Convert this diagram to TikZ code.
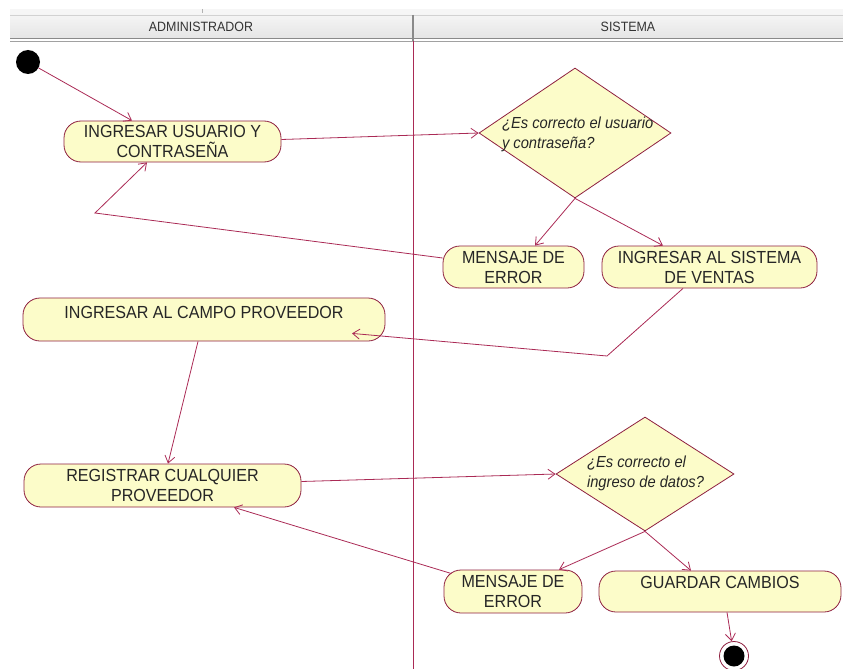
\documentclass[tikz,border=0pt]{standalone}
\usepackage{fontspec}
\setmainfont{Liberation Sans}
\newfontfamily\actfont[FakeStretch=0.92]{Liberation Sans}
\usetikzlibrary{shapes.geometric,arrows.meta,calc}

\definecolor{flowred}{HTML}{AA2A55}
\definecolor{actline}{HTML}{8E1F3F}
\definecolor{actfill}{HTML}{FCFCC9}
\definecolor{hdrgray}{HTML}{EFEFEF}
\definecolor{hdrline}{HTML}{8A8A8A}
\definecolor{hdrtext}{HTML}{333333}
\definecolor{txt}{HTML}{262626}

% zero-size, left-aligned text block placed inside a decision diamond
% #1 horizontal offset, #2 downward offset, #3 lines
\newcommand\dectext[3]{\smash{\makebox[0pt][l]{\hspace{#1pt}\raisebox{-#2pt}{\begin{tabular}{@{}l@{}}#3\end{tabular}}}}}

\tikzset{
  act/.style={draw=actline, fill=actfill, rounded corners=17pt, line width=0.8pt,
    inner sep=0pt, text=txt, align=center,
    font=\actfont\fontsize{17.5}{20}\selectfont},
  decision/.style={diamond, draw=actline, fill=actfill, line width=0.8pt,
    inner sep=0pt, text=txt, font=\actfont\itshape\fontsize{16}{20}\selectfont},
  flow/.style={draw=flowred, line width=0.8pt, -{Straight Barb[length=7pt,width=10pt]}},
  hdr/.style={text=hdrtext, font=\actfont\fontsize{13.5}{15}\selectfont},
}

\begin{document}
\begin{tikzpicture}[x=1pt,y=-1pt]
  \useasboundingbox (0,0) rectangle (843,669);

  % swimlane header
  \fill[hdrgray!55] (10,9) rectangle (843,15);
  \draw[gray!60, line width=0.6pt] (202,9) -- (202,13);
  \shade[top color=white!96!black, bottom color=white!90!black] (10,15) rectangle (843,38);
  \draw[gray!35, line width=0.6pt] (10,15) -- (843,15);
  \draw[hdrline, line width=1.2pt] (10,38.5) -- (843,38.5);
  \draw[hdrline!80, line width=1pt] (10,41.2) -- (843,41.2);
  \draw[hdrline, line width=1.2pt] (413,15) -- (413,41.5);
  \node[hdr] (hAdm) at (201,27) {ADMINISTRADOR};
  \node[hdr] (hSis) at (628,27) {SISTEMA};

  % lane divider
  \draw[flowred, line width=0.9pt] (413,41.5) -- (413,669);

  % start and end states
  \node[circle, fill=black, minimum size=24pt, inner sep=0pt] (start) at (28,62) {};
  \node[circle, draw=actline, fill=white, line width=0.8pt, minimum size=29pt, inner sep=0pt,
    path picture={\fill[black] (path picture bounding box.center) circle (10.5pt);}] (stop) at (734,656) {};

  % activities
  \node[act, minimum width=217pt, minimum height=41pt] (act1) at (172.5,141.5) {INGRESAR USUARIO Y\\CONTRASEÑA};
  \node[decision, minimum width=192pt, minimum height=130pt] (dec1) at (575,133)
    {\dectext{-73}{6}{¿Es correcto el usuario\\y contraseña?}};
  \node[act, minimum width=141pt, minimum height=42pt] (err1) at (513.5,267) {MENSAJE DE\\ERROR};
  \node[act, minimum width=215pt, minimum height=42pt] (sis) at (709.5,267) {INGRESAR AL SISTEMA\\DE VENTAS};
  \node[act, minimum width=362pt, minimum height=43pt] (act3) at (204,319.5) {INGRESAR AL CAMPO PROVEEDOR\\[-12pt]\strut};
  \node[act, minimum width=277pt, minimum height=43pt] (reg) at (162.5,485.5) {REGISTRAR CUALQUIER\\PROVEEDOR};
  \node[decision, minimum width=178pt, minimum height=114pt] (dec2) at (645,474)
    {\dectext{-58}{4}{¿Es correcto el\\ingreso de datos?}};
  \node[act, minimum width=138pt, minimum height=43pt] (err2) at (513,591.5) {MENSAJE DE\\ERROR};
  \node[act, minimum width=242pt, minimum height=41pt] (guard) at (720,591.5) {GUARDAR CAMBIOS\\[-8pt]\strut};

  % bend points
  \coordinate (b1) at (95,213);
  \coordinate (b2) at (607,356);

  % transitions
  \draw[flow] (start) -- ([xshift=-40.5pt]act1.north);
  \draw[flow] ([yshift=2pt]act1.east) -- (dec1.west);
  \draw[flow] (dec1.south) -- ([xshift=21.5pt]err1.north);
  \draw[flow] (dec1.south) -- ([xshift=-46.5pt]sis.north);
  \draw[flow] ([yshift=9pt]err1.west) -- (b1) -- ([xshift=-25.5pt]act1.south);
  \draw[flow] ([xshift=-26.5pt]sis.south) -- (b2) -- ([xshift=148pt,yshift=8pt]act3.south);
  \draw[flow] ([xshift=-6pt]act3.south) -- ([xshift=5.5pt]reg.north);
  \draw[flow] ([yshift=4pt]reg.east) -- (dec2.west);
  \draw[flow] (dec2.south) -- ([xshift=46pt]err2.north);
  \draw[flow] (dec2.south) -- ([xshift=-29pt]guard.north);
  \draw[flow] ([xshift=8pt,yshift=-4pt]err2.north west) -- ([xshift=71.5pt]reg.south);
  \draw[flow] ([xshift=7pt]guard.south) -- (stop);
\end{tikzpicture}
\end{document}
